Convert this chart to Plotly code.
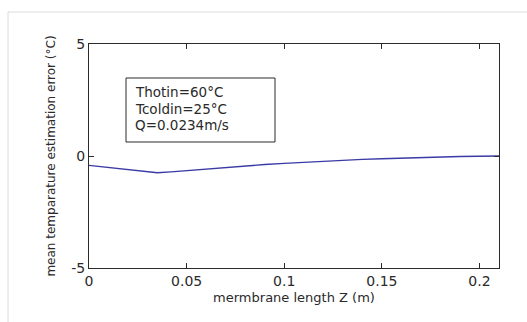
import plotly.graph_objects as go

# Mean temperature estimation error along the membrane
z_m = [0.0, 0.006, 0.012, 0.018, 0.024, 0.030, 0.035, 0.042, 0.050, 0.060,
       0.070, 0.080, 0.090, 0.100, 0.110, 0.120, 0.130, 0.140, 0.150, 0.160,
       0.170, 0.180, 0.190, 0.200, 0.210]
error_c = [-0.42, -0.48, -0.55, -0.61, -0.67, -0.72, -0.75, -0.71, -0.65, -0.58,
           -0.51, -0.44, -0.38, -0.33, -0.28, -0.23, -0.19, -0.15, -0.12, -0.09,
           -0.06, -0.04, -0.02, -0.01, 0.0]

x_ticks = [0, 0.05, 0.1, 0.15, 0.2]
x_ticktext = ["0", "0.05", "0.1", "0.15", "0.2"]
y_ticks = [-5, 0, 5]
y_ticktext = ["-5", "0", "5"]

info_lines = ["Thotin=60°C", "Tcoldin=25°C", "Q=0.0234m/s"]

W, H = 527, 322
ML, MR, MT, MB = 89, 28, 44, 54
PW, PH = W - ML - MR, H - MT - MB


def px_to_paper(px, py):
    return (px - ML) / PW, (H - MB - py) / PH


FONT = "DejaVu Sans"
AX = "#2b2b2b"
TXT = "#2a2a2a"

fig = go.Figure()
fig.add_trace(go.Scatter(
    x=z_m, y=error_c, mode="lines",
    line=dict(color="#3a3aa6", width=1.4),
    showlegend=False,
))

axis_common = dict(
    showgrid=False, zeroline=False, showline=True, linecolor=AX, linewidth=1,
    mirror="ticks", ticks="inside", ticklen=5, tickcolor=AX,
    tickfont=dict(family=FONT, size=14, color=TXT),
)

fig.update_xaxes(
    range=[0, 0.21], tickvals=x_ticks, ticktext=x_ticktext,
    title=dict(text="mermbrane length Z (m)", standoff=5,
               font=dict(family=FONT, size=13, color=TXT)),
    **axis_common,
)
fig.update_yaxes(
    range=[-5, 5], tickvals=y_ticks, ticktext=y_ticktext,
    title=dict(text="mean temparature estimation error (°C)", standoff=13,
               font=dict(family=FONT, size=12, color=TXT)),
    **axis_common,
)

# Parameter box
bx0, by1 = px_to_paper(126, 78)
bx1, by0 = px_to_paper(275, 142)
fig.add_shape(type="rect", xref="paper", yref="paper",
              x0=bx0, x1=bx1, y0=by0, y1=by1,
              line=dict(color=AX, width=1), fillcolor="white")
for i, line in enumerate(info_lines):
    tx, ty = px_to_paper(133, 92 + 16.5 * i)
    fig.add_annotation(xref="paper", yref="paper", x=tx, y=ty,
                       xanchor="left", yanchor="middle", showarrow=False,
                       text=line, font=dict(family=FONT, size=13.5, color=TXT))

# Thin outer frame (top and left edges)
fx0, fy_top = px_to_paper(8, 12)
fx1, _ = px_to_paper(W, 12)
_, fy_bot = px_to_paper(8, H)
fig.add_shape(type="line", xref="paper", yref="paper",
              x0=fx0, x1=fx1, y0=fy_top, y1=fy_top,
              line=dict(color="#dcdcdc", width=1))
fig.add_shape(type="line", xref="paper", yref="paper",
              x0=fx0, x1=fx0, y0=fy_top, y1=fy_bot,
              line=dict(color="#dcdcdc", width=1))

fig.update_layout(
    width=W, height=H,
    margin=dict(l=ML, r=MR, t=MT, b=MB, autoexpand=False),
    paper_bgcolor="white", plot_bgcolor="white",
)

fig.write_html("out.html")
